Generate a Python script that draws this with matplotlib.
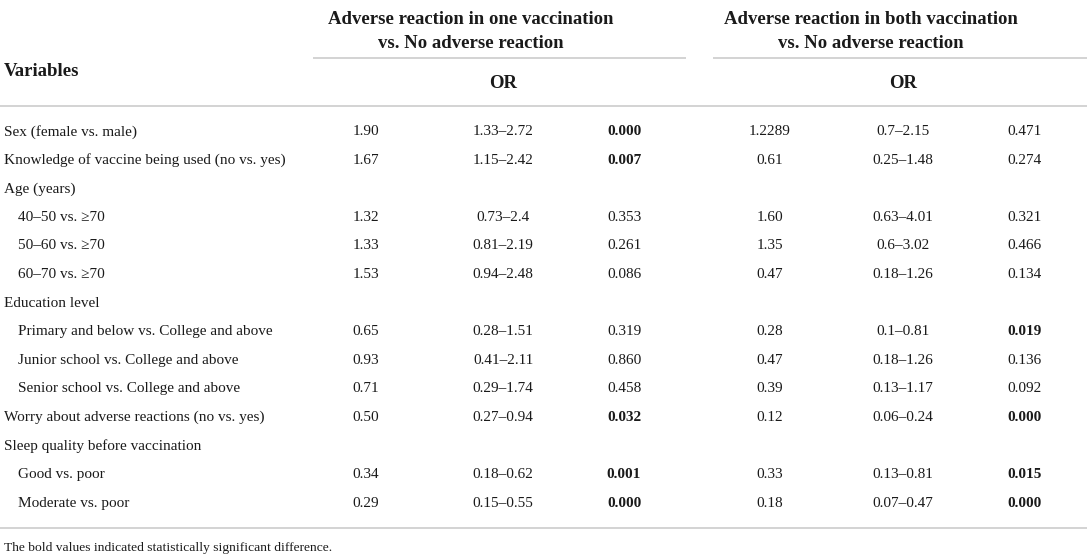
import matplotlib
matplotlib.use("Agg")
import matplotlib.pyplot as plt

plt.rcParams['font.family'] = ['Liberation Serif', 'DejaVu Serif']

# table content
variables = [
    "Sex (female vs. male)",
    "Knowledge of vaccine being used (no vs. yes)",
    "Age (years)",
    "40\u201350 vs. \u226570",
    "50\u201360 vs. \u226570",
    "60\u201370 vs. \u226570",
    "Education level",
    "Primary and below vs. College and above",
    "Junior school vs. College and above",
    "Senior school vs. College and above",
    "Worry about adverse reactions (no vs. yes)",
    "Sleep quality before vaccination",
    "Good vs. poor",
    "Moderate vs. poor",
]
indented = [False, False, False, True, True, True, False, True, True, True, False, False, True, True]

or_one = ["1.90", "1.67", "", "1.32", "1.33", "1.53", "", "0.65", "0.93", "0.71", "0.50", "", "0.34", "0.29"]
ci_one = ["1.33\u20132.72", "1.15\u20132.42", "", "0.73\u20132.4", "0.81\u20132.19", "0.94\u20132.48", "",
          "0.28\u20131.51", "0.41\u20132.11", "0.29\u20131.74", "0.27\u20130.94", "", "0.18\u20130.62", "0.15\u20130.55"]
p_one = ["0.000", "0.007", "", "0.353", "0.261", "0.086", "", "0.319", "0.860", "0.458", "0.032", "", "0.001", "0.000"]
bold_one = [True, True, False, False, False, False, False, False, False, False, True, False, True, True]

or_both = ["1.2289", "0.61", "", "1.60", "1.35", "0.47", "", "0.28", "0.47", "0.39", "0.12", "", "0.33", "0.18"]
ci_both = ["0.7\u20132.15", "0.25\u20131.48", "", "0.63\u20134.01", "0.6\u20133.02", "0.18\u20131.26", "",
           "0.1\u20130.81", "0.18\u20131.26", "0.13\u20131.17", "0.06\u20130.24", "", "0.13\u20130.81", "0.07\u20130.47"]
p_both = ["0.471", "0.274", "", "0.321", "0.466", "0.134", "", "0.019", "0.136", "0.092", "0.000", "", "0.015", "0.000"]
bold_both = [False, False, False, False, False, False, False, True, False, False, True, False, True, True]

group_titles = ["Adverse reaction in one vaccination\nvs. No adverse reaction",
                "Adverse reaction in both vaccination\nvs. No adverse reaction"]
footnote = "The bold values indicated statistically significant difference."

W, H = 1089, 555
fig = plt.figure(figsize=(W / 100, H / 100), dpi=100)
ax = fig.add_axes([0, 0, 1, 1])
ax.set_xlim(0, W)
ax.set_ylim(H, 0)
ax.axis('off')

line_col = '#cccccc'
txt_col = '#1a1a1a'
body = 11
head = 13.5

# layout
row0, dy = 130, 28.6
col_x = [[366, 503, 624], [770, 903, 1025]]
group_span = [(313, 686), (713, 1087)]

for g, title in enumerate(group_titles):
    l1, l2 = title.split("\n")
    cx = col_x[g][1] - 32
    ax.text(cx, 17, l1, ha='center', va='center_baseline', fontsize=head, fontweight='bold', color=txt_col)
    ax.text(cx, 42, l2, ha='center', va='center_baseline', fontsize=head, fontweight='bold', color=txt_col)
    ax.plot(group_span[g], [58, 58], color=line_col, lw=1.2, solid_capstyle='butt')
    ax.text(col_x[g][1], 81, "OR", ha='center', va='center_baseline', fontsize=head, fontweight='bold', color=txt_col)

ax.text(4, 70, "Variables", ha='left', va='center_baseline', fontsize=head, fontweight='bold', color=txt_col)
ax.plot([0, 1087], [106, 106], color=line_col, lw=1.2, solid_capstyle='butt')

for i, name in enumerate(variables):
    y = row0 + i * dy
    ax.text(18 if indented[i] else 4, y, name, ha='left', va='center_baseline', fontsize=body, color=txt_col)
    cols = [(or_one, ci_one, p_one, bold_one), (or_both, ci_both, p_both, bold_both)]
    for g, (o, c, p, b) in enumerate(cols):
        ax.text(col_x[g][0], y, o[i], ha='center', va='center_baseline', fontsize=body, color=txt_col)
        ax.text(col_x[g][1], y, c[i], ha='center', va='center_baseline', fontsize=body, color=txt_col)
        ax.text(col_x[g][2], y, p[i], ha='center', va='center_baseline', fontsize=body,
                fontweight='bold' if b[i] else 'normal', color=txt_col)

ax.plot([0, 1087], [528, 528], color=line_col, lw=1.2, solid_capstyle='butt')
ax.text(4, 547, footnote, ha='left', va='center_baseline', fontsize=9.7, color=txt_col)

fig.savefig("out.png", dpi=100, facecolor='white')
